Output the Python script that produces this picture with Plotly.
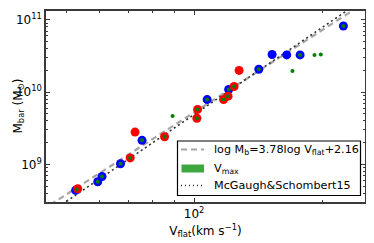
import numpy as np
import plotly.graph_objects as go

# Red sample (V_flat [km/s], M_bar [M_sun])
red_v = [127.6, 124.2, 120.2, 117.3, 101.9, 101.5, 72.6, 85.2, 70.7, 53.2]
red_m = [2.0e10, 1.20e10, 8.8e9, 7.9e9, 5.77e9, 4.36e9, 2.80e9, 2.41e9, 1.23e9, 4.6e8]

# Blue sample
blue_v = [224.6, 152.6, 165.2, 177.6, 142.0, 120.6, 107.3, 75.4, 67.1, 60.7, 59.3, 52.6]
blue_m = [8.26e10, 3.32e10, 3.28e10, 3.28e10, 2.08e10, 1.09e10, 7.9e9, 2.15e9, 1.02e9, 6.8e8, 5.74e8, 4.37e8]

# V_max points
vmax_v = [224.6, 177.6, 192.0, 198.7, 170.4, 142.0, 120.6, 107.3, 124.2, 120.2, 117.3,
          101.9, 101.5, 88.96, 75.4, 85.2, 70.7, 67.1, 60.7, 59.3, 52.9]
vmax_m = [8.26e10, 3.28e10, 3.28e10, 3.32e10, 1.97e10, 2.08e10, 1.09e10, 7.9e9, 1.20e10, 8.8e9, 7.9e9,
          5.77e9, 4.36e9, 4.66e9, 2.15e9, 2.41e9, 1.23e9, 1.02e9, 6.8e8, 5.74e8, 4.5e8]

# Relations
fit_slope, fit_icpt = 3.78, 2.16
mcg_slope, mcg_icpt = 4.0, 1.69
v_line = np.array([40.0, 280.0])

fig = go.Figure()
fig.add_trace(go.Scatter(x=v_line, y=10 ** (fit_slope * np.log10(v_line) + fit_icpt), mode="lines",
                         line=dict(color="#a6a6a6", width=2.2, dash="6px,4px"), showlegend=False))
fig.add_trace(go.Scatter(x=v_line, y=10 ** (mcg_slope * np.log10(v_line) + mcg_icpt), mode="lines",
                         line=dict(color="#333333", width=1.6, dash="2px,3px"), showlegend=False))
fig.add_trace(go.Scatter(x=blue_v, y=blue_m, mode="markers",
                         marker=dict(color="#0000ff", size=9, line=dict(width=0)), showlegend=False))
fig.add_trace(go.Scatter(x=red_v, y=red_m, mode="markers",
                         marker=dict(color="#ff0000", size=9, line=dict(width=0)), showlegend=False))
fig.add_trace(go.Scatter(x=vmax_v, y=vmax_m, mode="markers",
                         marker=dict(color="#008000", size=4, line=dict(width=0)), showlegend=False))

font = dict(family="DejaVu Sans", size=12, color="black")
axis_common = dict(type="log", showgrid=False, zeroline=False, showline=True, linecolor="#3a3a3a",
                   linewidth=1.5, mirror="ticks", ticks="inside", ticklen=4, tickcolor="#3a3a3a",
                   tickfont=font, automargin=False)
fig.update_xaxes(**axis_common, range=[np.log10(44.8), np.log10(252.5)],
                 tickvals=[100], ticktext=["10<sup>2</sup>"],
                 minor=dict(tickvals=[50, 60, 70, 80, 90, 200], ticks="inside", ticklen=2,
                            tickcolor="#3a3a3a", showgrid=False),
                 title=dict(text="V<sub>flat</sub>(km s<sup>−1</sup>)", font=font, standoff=6))
ymin_tv = [k * 10 ** e for e in (8, 9, 10) for k in range(2, 10)]
fig.update_yaxes(**axis_common, range=[8.479, 11.124],
                 tickvals=[1e9, 1e10, 1e11], ticktext=["10<sup>9</sup>", "10<sup>10</sup>", "10<sup>11</sup>"],
                 minor=dict(tickvals=ymin_tv, ticks="inside", ticklen=2, tickcolor="#3a3a3a", showgrid=False))

# page body has an 8px margin; size the figure so it fits in the 374x243 window
OFF = 8
W, H = 374 - OFF, 243 - OFF
ml, mr, mt, mb = 46 - OFF, 9, 11 - OFF, 41
pw, ph = W - ml - mr, H - mt - mb


def px(x):
    return (x - OFF - ml) / pw


def py(y):
    return 1 - (y - OFF - mt) / ph


shapes = [
    dict(type="rect", xref="paper", yref="paper", x0=px(177.5), x1=px(360.5), y0=py(195.5), y1=py(141),
         line=dict(color="black", width=1.2), fillcolor="white", layer="above"),
    dict(type="line", xref="paper", yref="paper", x0=px(181), x1=px(204), y0=py(149.5), y1=py(149.5),
         line=dict(color="#a6a6a6", width=2.2, dash="6px,4px"), layer="above"),
    dict(type="rect", xref="paper", yref="paper", x0=px(181.5), x1=px(204), y0=py(172.5), y1=py(164.5),
         line=dict(width=0), fillcolor="#3ea63e", layer="above"),
    dict(type="line", xref="paper", yref="paper", x0=px(181), x1=px(204), y0=py(185.5), y1=py(185.5),
         line=dict(color="#333333", width=1.4, dash="1px,3px"), layer="above"),
]
lfont = dict(family="DejaVu Sans", size=11.2, color="black")
annotations = [
    dict(text="log M<sub>b</sub>=3.78log V<sub>flat</sub>+2.16", x=px(212), y=py(149.5)),
    dict(text="V<sub>max</sub>", x=px(212), y=py(168.5)),
    dict(text="McGaugh&amp;Schombert15", x=px(212), y=py(185.5)),
]
for a in annotations:
    a.update(xref="paper", yref="paper", xanchor="left", yanchor="middle", showarrow=False, font=lfont)
annotations.append(dict(text="M<sub>bar</sub> (M<sub>⊙</sub>)", x=px(8.5), y=py(106), xref="paper",
                        yref="paper", xanchor="left", yanchor="middle", textangle=-90,
                        showarrow=False, font=font))

fig.update_layout(width=W, height=H, margin=dict(l=ml, r=mr, t=mt, b=mb),
                  plot_bgcolor="white", paper_bgcolor="white", font=font,
                  shapes=shapes, annotations=annotations, showlegend=False)
fig.write_html("out.html")
